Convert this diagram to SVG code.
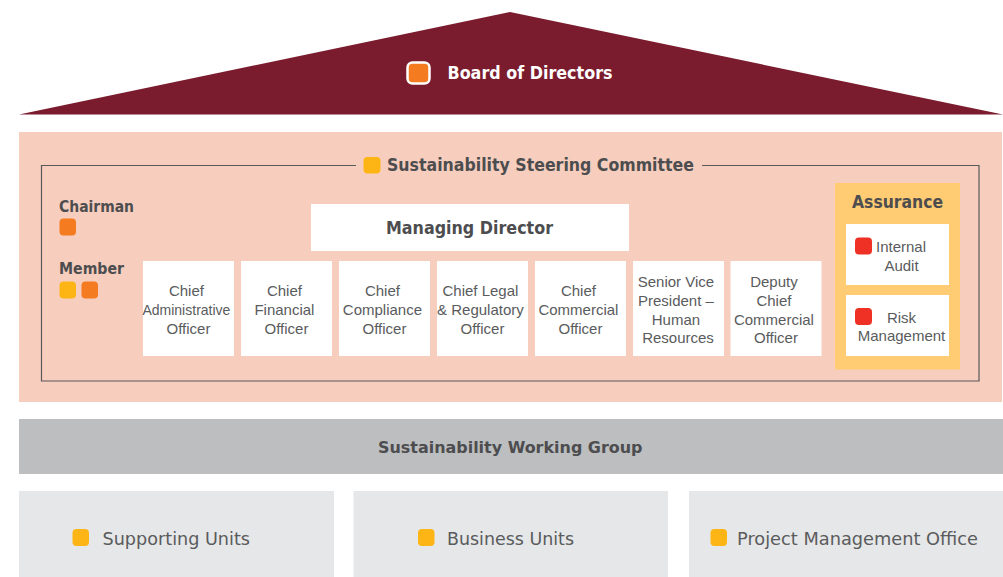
<svg xmlns="http://www.w3.org/2000/svg" width="1003" height="577" viewBox="0 0 1003 577">
  <style>
    .hd { font-family: "DejaVu Sans", "Open Sans", sans-serif; font-weight: bold; fill: #4d4d4f; }
    .lbl { font-family: "Liberation Sans", Arial, sans-serif; font-size: 15px; fill: #5a5b5d; }
    .unit { font-family: "DejaVu Sans", "Open Sans", sans-serif; font-size: 17px; fill: #5a5b5d; }
    .box { fill: #ffffff; }
    .dot-orange { fill: #f47b20; }
    .dot-yellow { fill: #fdb515; }
    .dot-red { fill: #ee3124; }
  </style>

  <!-- Roof: board of directors -->
  <g id="board">
    <polygon points="19,114.5 510,12 1003,114.5" fill="#7a1c2e"/>
    <rect x="407.5" y="62.5" width="22" height="21" rx="5" class="dot-orange" stroke="#ffffff" stroke-width="2.5"/>
    <text x="447.5" y="78.5" class="hd" font-size="17" style="fill:#ffffff" textLength="165" lengthAdjust="spacingAndGlyphs">Board of Directors</text>
  </g>

  <!-- Steering committee band -->
  <g id="steering-committee">
    <rect x="19" y="132" width="983" height="270" fill="#f7cdbd"/>
    <path d="M356,165.5 H41.5 V381 H979 V165.5 H702" fill="none" stroke="#58595b" stroke-width="1.2"/>
    <rect x="363.5" y="157" width="17" height="16.5" rx="4" class="dot-yellow"/>
    <text x="387" y="171" class="hd" font-size="17" textLength="307" lengthAdjust="spacingAndGlyphs">Sustainability Steering Committee</text>
  </g>

  <!-- Legend -->
  <g id="legend-chairman">
    <text x="59" y="212" class="hd" font-size="15" textLength="75" lengthAdjust="spacingAndGlyphs">Chairman</text>
    <rect x="59.5" y="218.5" width="16.5" height="17" rx="4" class="dot-orange"/>
  </g>
  <g id="legend-member">
    <text x="59" y="274" class="hd" font-size="15" textLength="65" lengthAdjust="spacingAndGlyphs">Member</text>
    <rect x="59.5" y="281.5" width="16.5" height="17" rx="4" class="dot-yellow"/>
    <rect x="81.5" y="281.5" width="16.5" height="17" rx="4" class="dot-orange"/>
  </g>

  <g id="managing-director">
    <rect x="311" y="204" width="318" height="47" class="box"/>
    <text x="386" y="234" class="hd" font-size="17" textLength="167" lengthAdjust="spacingAndGlyphs">Managing Director</text>
  </g>

  <!-- Committee members -->
  <g id="cao">
    <rect x="143" y="261" width="91" height="95" class="box"/>
    <text class="lbl" text-anchor="middle">
      <tspan x="188.5" y="295.5">Chief</tspan>
      <tspan x="188.5" y="314.5" textLength="88" lengthAdjust="spacingAndGlyphs">Administrative</tspan>
      <tspan x="188.5" y="333.5">Officer</tspan>
    </text>
  </g>
  <g id="cfo">
    <rect x="241" y="261" width="91" height="95" class="box"/>
    <text class="lbl" text-anchor="middle">
      <tspan x="286.5" y="295.5">Chief</tspan>
      <tspan x="286.5" y="314.5">Financial</tspan>
      <tspan x="286.5" y="333.5">Officer</tspan>
    </text>
  </g>
  <g id="cco-compliance">
    <rect x="339" y="261" width="91" height="95" class="box"/>
    <text class="lbl" text-anchor="middle">
      <tspan x="384.5" y="295.5">Chief</tspan>
      <tspan x="384.5" y="314.5">Compliance</tspan>
      <tspan x="384.5" y="333.5">Officer</tspan>
    </text>
  </g>
  <g id="clo">
    <rect x="437" y="261" width="91" height="95" class="box"/>
    <text class="lbl" text-anchor="middle">
      <tspan x="482.5" y="295.5">Chief Legal</tspan>
      <tspan x="482.5" y="314.5">&amp; Regulatory</tspan>
      <tspan x="482.5" y="333.5">Officer</tspan>
    </text>
  </g>
  <g id="cco-commercial">
    <rect x="535" y="261" width="91" height="95" class="box"/>
    <text class="lbl" text-anchor="middle">
      <tspan x="580.5" y="295.5">Chief</tspan>
      <tspan x="580.5" y="314.5">Commercial</tspan>
      <tspan x="580.5" y="333.5">Officer</tspan>
    </text>
  </g>
  <g id="svp-hr">
    <rect x="633" y="261" width="91" height="95" class="box"/>
    <text class="lbl" text-anchor="middle">
      <tspan x="678" y="286.5">Senior Vice</tspan>
      <tspan x="678" y="305.5">President –</tspan>
      <tspan x="678" y="324.5">Human</tspan>
      <tspan x="678" y="343">Resources</tspan>
    </text>
  </g>
  <g id="dcco">
    <rect x="730.5" y="261" width="91" height="95" class="box"/>
    <text class="lbl" text-anchor="middle">
      <tspan x="776" y="286.5">Deputy</tspan>
      <tspan x="776" y="305.5">Chief</tspan>
      <tspan x="776" y="324.5">Commercial</tspan>
      <tspan x="776" y="343">Officer</tspan>
    </text>
  </g>

  <!-- Assurance -->
  <g id="assurance">
    <rect x="835" y="183" width="125" height="186.5" fill="#ffcc73"/>
    <text x="852" y="208" class="hd" font-size="17" textLength="91" lengthAdjust="spacingAndGlyphs">Assurance</text>
  </g>
  <g id="internal-audit">
    <rect x="846" y="224" width="103" height="61" class="box"/>
    <rect x="855" y="237.5" width="17" height="17" rx="4" class="dot-red"/>
    <text x="876" y="252" class="lbl">Internal</text>
    <text x="901.5" y="270.5" class="lbl" text-anchor="middle">Audit</text>
  </g>
  <g id="risk-management">
    <rect x="846" y="295" width="103" height="61" class="box"/>
    <rect x="855" y="308" width="17" height="17" rx="4" class="dot-red"/>
    <text x="901.5" y="322.5" class="lbl" text-anchor="middle">Risk</text>
    <text x="901.5" y="341" class="lbl" text-anchor="middle">Management</text>
  </g>

  <!-- Working group -->
  <g id="working-group">
    <rect x="19" y="419" width="984" height="55" fill="#bcbec0"/>
    <text x="378" y="453" class="hd" font-size="16" textLength="264.5" lengthAdjust="spacingAndGlyphs">Sustainability Working Group</text>
  </g>

  <g id="supporting-units">
    <rect x="19" y="491" width="315" height="86" fill="#e6e7e8"/>
    <rect x="72.5" y="529" width="16.5" height="17" rx="4" class="dot-yellow"/>
    <text x="102.5" y="545" class="unit" textLength="147.5" lengthAdjust="spacingAndGlyphs">Supporting Units</text>
  </g>
  <g id="business-units">
    <rect x="353.5" y="491" width="314.5" height="86" fill="#e6e7e8"/>
    <rect x="418" y="529" width="16.5" height="17" rx="4" class="dot-yellow"/>
    <text x="447" y="545" class="unit" textLength="127" lengthAdjust="spacingAndGlyphs">Business Units</text>
  </g>
  <g id="pmo">
    <rect x="689" y="491" width="314" height="86" fill="#e6e7e8"/>
    <rect x="710.5" y="529" width="16.5" height="17" rx="4" class="dot-yellow"/>
    <text x="737" y="545" class="unit" textLength="241" lengthAdjust="spacingAndGlyphs">Project Management Office</text>
  </g>

  <!-- No connectors are drawn between the tiers -->
  <g id="connectors"/>
</svg>
